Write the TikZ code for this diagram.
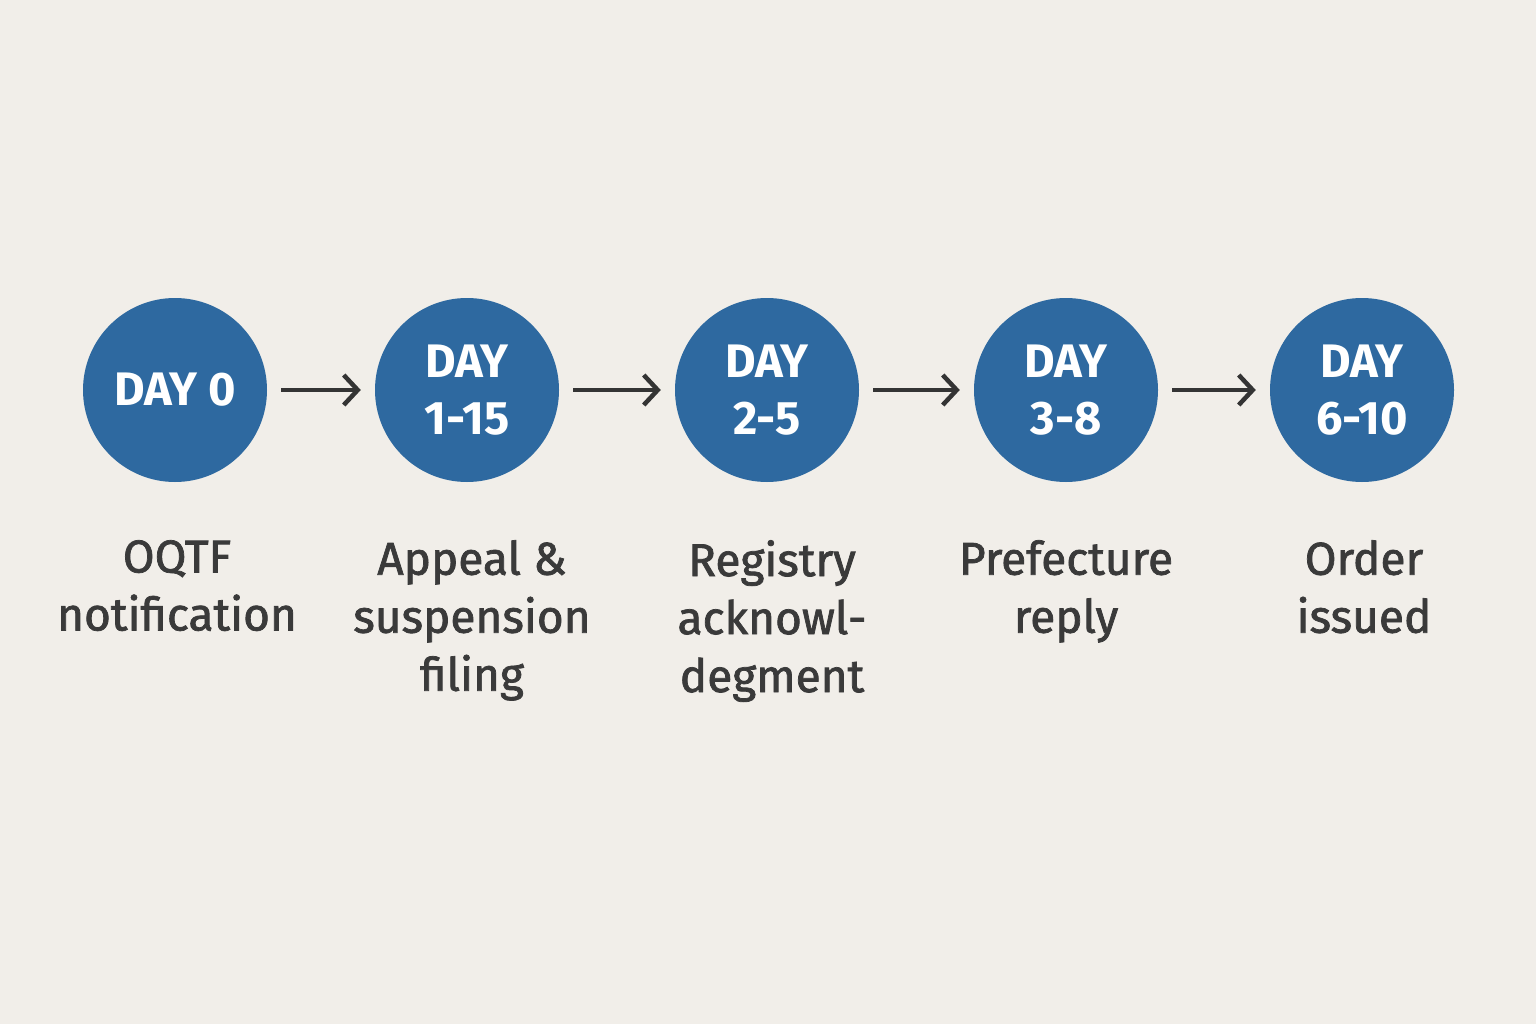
\documentclass[tikz,border=0pt]{standalone}
\usepackage{fontspec}
\setmainfont{Fira Sans}
\newfontfamily\labfont[FakeBold=1.6]{Fira Sans}
\usetikzlibrary{arrows.meta}
\definecolor{bg}{HTML}{F1EEE9}
\definecolor{blu}{HTML}{2E69A0}
\definecolor{txt}{HTML}{3A3A3A}
\begin{document}
\begin{tikzpicture}[x=1pt,y=-1pt,
  circ/.style={circle,fill=blu,minimum size=184pt,inner sep=0pt,text=white,align=center,
    font=\fontsize{47}{57}\selectfont\bfseries},
  lab/.style={anchor=north,align=center,text=txt,inner sep=0pt,
    font=\fontsize{46}{58}\labfont},
  arr/.style={draw=txt!90!black,line width=4.5pt,-{Straight Barb[length=14pt,width=30pt,line width=4.5pt]},shorten <=14pt,shorten >=14pt}]
\fill[bg] (0,0) rectangle (1536,1024);
\useasboundingbox (0,0) rectangle (1536,1024);
\node[circ] (c1) at (175,390) {DAY 0};
\node[circ] (c2) at (467,390) {DAY\\1-15};
\node[circ] (c3) at (767,390) {DAY\\2-5};
\node[circ] (c4) at (1066,390) {DAY\\3-8};
\node[circ] (c5) at (1362,390) {DAY\\6-10};
\node[lab] (l1) at (177,540) {OQTF\\notification};
\node[lab] (l2) at (472,540) {Appeal \&\\suspension\\filing};
\node[lab] (l3) at (772,540) {Registry\\acknowl-\\degment};
\node[lab] (l4) at (1066,540) {Prefecture\\reply};
\node[lab] (l5) at (1364,540) {Order\\issued};
\draw[arr] (c1) -- (c2);
\draw[arr] (c2) -- (c3);
\draw[arr] (c3) -- (c4);
\draw[arr] (c4) -- (c5);
\end{tikzpicture}
\end{document}
